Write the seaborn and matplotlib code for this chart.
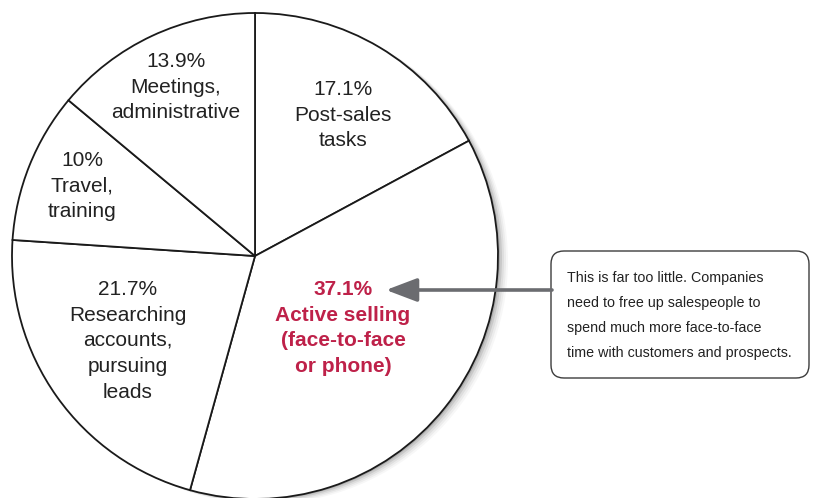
"""
Pie: how salespeople spend their time, with a callout on active selling.
"""

import matplotlib.pyplot as plt
import seaborn as sns
from matplotlib.patches import Circle, FancyBboxPatch

# data
categories = [
    "Post-sales\ntasks",
    "Active selling\n(face-to-face\nor phone)",
    "Researching\naccounts,\npursuing\nleads",
    "Travel,\ntraining",
    "Meetings,\nadministrative",
]
shares = [17.1, 37.1, 21.7, 10, 13.9]
share_labels = ["17.1%", "37.1%", "21.7%", "10%", "13.9%"]
callout = ("This is far too little. Companies\n"
           "need to free up salespeople to\n"
           "spend much more face-to-face\n"
           "time with customers and prospects.")

W, H = 813, 498
CRIMSON = "#BE2149"
ARROW_GREY = "#6B6C70"


def Y(p):
    # pixel row (from top) -> data y
    return H - p


sns.set_theme(style="white")
plt.rcParams["font.family"] = ["Liberation Sans", "DejaVu Sans"]

fig = plt.figure(figsize=(W / 100, H / 100), dpi=100)
ax = fig.add_axes([0, 0, 1, 1])

cx, cy, r = 255, Y(256), 243

# soft shadow on the lower right
for k, a in [(10, 0.03), (8, 0.045), (6, 0.06), (4, 0.09), (2, 0.13)]:
    ax.add_patch(Circle((cx + k, cy - k * 0.5), r, color="black", alpha=a, lw=0, zorder=0))

ax.pie(
    shares,
    startangle=90,
    counterclock=False,
    center=(cx, cy),
    radius=r,
    colors=["white"] * len(shares),
    wedgeprops=dict(edgecolor="#1a1a1a", linewidth=1.3),
    frame=True,
)

# slice labels (pixel positions of block centres)
label_pos = [(343, 115), (343, 328), (128, 341), (82, 186), (176, 87)]
for i, (name, pct) in enumerate(zip(categories, share_labels)):
    x, yp = label_pos[i]
    if i == 1:
        ax.text(x, Y(yp), f"{pct}\n{name}", ha="center", va="center",
                fontsize=15, fontweight="bold", color=CRIMSON, linespacing=1.44)
    else:
        ax.text(x, Y(yp), f"{pct}\n{name}", ha="center", va="center",
                fontsize=15, color="#222222", linespacing=1.44)

# callout box
ax.add_patch(FancyBboxPatch((551, Y(378)), 258, 127,
                            boxstyle="round,pad=0,rounding_size=13",
                            facecolor="white", edgecolor="#3c3c3c", linewidth=1.0))
ax.text(567, Y(315.5), callout, ha="left", va="center", fontsize=10.3,
        color="#222222", linespacing=2.0,
        family=["Liberation Sans Narrow", "Liberation Sans"])

ax.annotate("", xy=(386, Y(290)), xytext=(552, Y(290)),
            arrowprops=dict(arrowstyle="-|>,head_length=0.95,head_width=0.36",
                            mutation_scale=20, color=ARROW_GREY, lw=2.6,
                            shrinkA=0, shrinkB=0))

ax.set_xlim(0, W)
ax.set_ylim(0, H)
ax.set_aspect("equal")
ax.axis("off")

plt.savefig("out.png", dpi=100)
plt.close()
